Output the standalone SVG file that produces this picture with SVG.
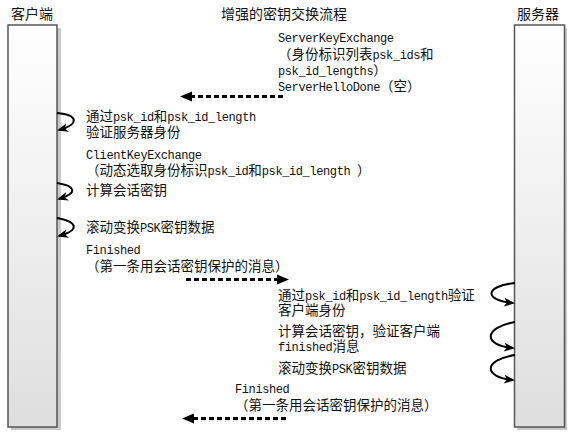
<svg xmlns="http://www.w3.org/2000/svg" width="576" height="433" viewBox="0 0 576 433">
<defs>
<linearGradient id="barg" x1="0" y1="0" x2="0" y2="1">
<stop offset="0" stop-color="#ffffff"/>
<stop offset="1" stop-color="#dedede"/>
</linearGradient>
<marker id="dash-head" markerUnits="userSpaceOnUse" markerWidth="12" markerHeight="10" refX="2" refY="5" orient="auto" overflow="visible">
<path d="M0,0 L12,5 L0,10 z" fill="#000"/>
</marker>
<marker id="loop-head" markerUnits="userSpaceOnUse" markerWidth="11" markerHeight="9" refX="9" refY="4.5" orient="auto" overflow="visible">
<path d="M0,0 L11,4.5 L0,9 L3,4.5 z" fill="#000"/>
</marker>
</defs>
<style>
text { font-family: "Noto Sans CJK SC", sans-serif; font-size: 13.5px; fill: #111; }
.m { font-family: "Liberation Mono", "DejaVu Sans Mono", monospace; font-size: 12px; letter-spacing: -0.4px; }
.title { font-size: 14px; text-anchor: middle; }
.bar { fill: url(#barg); stroke: #555; stroke-width: 1.5; }
.shadow { fill: #c9c9c9; }
.msg { fill: none; stroke: #000; stroke-width: 3; stroke-dasharray: 5 3; marker-end: url(#dash-head); }
.loop { fill: none; stroke: #000; stroke-width: 2; marker-end: url(#loop-head); }
</style>
<rect width="576" height="433" fill="#fff"/>

<g id="heading">
<text class="title" x="32" y="19">客户端</text>
<text class="title" x="284" y="19">增强的密钥交换流程</text>
<text class="title" x="538" y="19">服务器</text>
</g>

<g id="client">
<rect class="shadow" x="11" y="28" width="50" height="402"/>
<rect class="bar" x="8" y="25" width="49" height="402"/>
</g>

<g id="server">
<rect class="shadow" x="517" y="28" width="50" height="402"/>
<rect class="bar" x="514.5" y="25" width="50" height="402"/>
</g>

<g id="connectors">
<line class="msg" x1="283" y1="96.5" x2="190" y2="96.5"/>
<line class="msg" x1="186" y1="279.5" x2="279" y2="279.5"/>
<line class="msg" x1="286" y1="418.5" x2="192" y2="418.5"/>
<path class="loop" d="M57,113 C78,115 80,124 59,130"/>
<path class="loop" d="M57,183 C76,186 78,193 59,199"/>
<path class="loop" d="M57,218 C78,222 80,230 59,236"/>
<path class="loop" d="M515,283 C485,286 483,300 513,303"/>
<path class="loop" d="M515,322 C483,328 483,345 513,348"/>
<path class="loop" d="M515,355 C483,360 483,377 513,380"/>
</g>

<g id="labels">
<text id="lbl-server-key-exchange" x="278" y="42"><tspan class="m">ServerKeyExchange</tspan><tspan x="278" dy="17">（身份标识列表<tspan class="m">psk_ids</tspan>和</tspan><tspan x="278" dy="16"><tspan class="m">psk_id_lengths</tspan>）</tspan><tspan x="278" dy="16"><tspan class="m">ServerHelloDone</tspan>（空）</tspan></text>

<text id="lbl-client-verify" x="86" y="121">通过<tspan class="m">psk_id</tspan>和<tspan class="m">psk_id_length</tspan><tspan x="86" dy="16">验证服务器身份</tspan></text>
<text id="lbl-client-key-exchange" x="86" y="159"><tspan class="m">ClientKeyExchange</tspan><tspan x="86" dy="16">（动态选取身份标识<tspan class="m">psk_id</tspan>和<tspan class="m">psk_id_length </tspan>）</tspan></text>
<text id="lbl-client-compute" x="86" y="195">计算会话密钥</text>
<text id="lbl-client-roll" x="86" y="232">滚动变换<tspan class="m">PSK</tspan>密钥数据</text>
<text id="lbl-client-finished" x="86" y="254"><tspan class="m">Finished</tspan><tspan x="86" dy="17">（第一条用会话密钥保护的消息）</tspan></text>

<text id="lbl-server-verify" x="278" y="300">通过<tspan class="m">psk_id</tspan>和<tspan class="m">psk_id_length</tspan>验证<tspan x="278" dy="15">客户端身份</tspan></text>
<text id="lbl-server-compute" x="278" y="336">计算会话密钥，验证客户端<tspan x="278" dy="15"><tspan class="m">finished</tspan>消息</tspan></text>
<text id="lbl-server-roll" x="278" y="373">滚动变换<tspan class="m">PSK</tspan>密钥数据</text>
<text id="lbl-server-finished" x="235" y="393"><tspan class="m">Finished</tspan><tspan x="235" dy="17">（第一条用会话密钥保护的消息）</tspan></text>
</g>
</svg>
